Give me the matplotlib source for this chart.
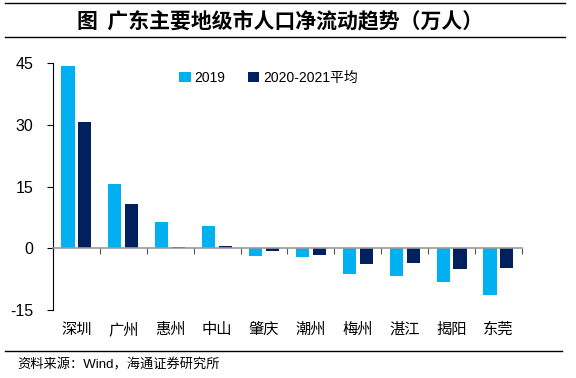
import numpy as np
import matplotlib.pyplot as plt
from matplotlib.lines import Line2D

plt.rcParams['font.family'] = ['Liberation Sans', 'Noto Sans CJK SC']

cities = ["深圳", "广州", "惠州", "中山", "肇庆", "潮州", "梅州", "湛江", "揭阳", "东莞"]
v2019 = [44.4, 15.5, 6.5, 5.5, -1.9, -2.1, -6.2, -6.7, -8.2, -11.3]
v2020_21 = [30.8, 10.7, 0.3, 0.5, -0.7, -1.7, -3.9, -3.7, -5.0, -4.9]
series_labels = ["2019", "2020-2021平均"]
colors = ["#00B0F0", "#002060"]

fig = plt.figure(figsize=(5.76, 3.78), dpi=100)
ax = fig.add_axes([0.092, 0.180, 0.814, 0.653])

x = np.arange(len(cities))
w = 0.28
ax.bar(x - 0.18, v2019, width=w, color=colors[0], label=series_labels[0])
ax.bar(x + 0.18, v2020_21, width=w, color=colors[1], label=series_labels[1])

ax.set_xlim(-0.5, len(cities) - 0.5)
ax.set_ylim(-15, 45)
ax.set_yticks([-15, 0, 15, 30, 45])
ax.set_yticklabels(["-15", "0", "15", "30", "45"])
ax.tick_params(axis="y", labelsize=11.5, length=4, width=0.8, pad=10)

ax.spines["top"].set_visible(False)
ax.spines["right"].set_visible(False)
ax.spines["left"].set_color("black")
ax.spines["left"].set_linewidth(0.8)
ax.spines["bottom"].set_position(("data", 0))
ax.spines["bottom"].set_color("#999999")
ax.spines["bottom"].set_linewidth(1.2)
ax.set_xticks(np.arange(len(cities) + 1) - 0.5)
ax.set_xticklabels([])
ax.tick_params(axis="x", direction="out", length=4, width=0.8, color="#555555")

for xi, name in zip(x, cities):
    ax.text(xi, -0.08, name, transform=ax.get_xaxis_transform(),
            ha="center", va="center", fontsize=11)

ax.legend(loc="upper left", bbox_to_anchor=(0.243, 1.02), ncol=2, frameon=False,
          fontsize=10, handlelength=0.8, handleheight=0.8, handletextpad=0.3,
          columnspacing=1.6)

# 标题与来源
fig.text(0.486, 0.944, "图  广东主要地级市人口净流动趋势（万人）", ha="center", va="center",
         fontsize=15, fontweight="bold", family=["Noto Sans CJK SC"])
fig.add_artist(Line2D([0.009, 0.981], [0.992, 0.992], color="black", lw=1.0))
fig.add_artist(Line2D([0.009, 0.981], [0.902, 0.902], color="black", lw=1.0))
fig.add_artist(Line2D([0.009, 0.976], [0.072, 0.072], color="black", lw=1.0))
fig.text(0.031, 0.034, "资料来源：Wind，海通证券研究所", ha="left", va="center", fontsize=9.5)

fig.savefig("out.png", dpi=100)
